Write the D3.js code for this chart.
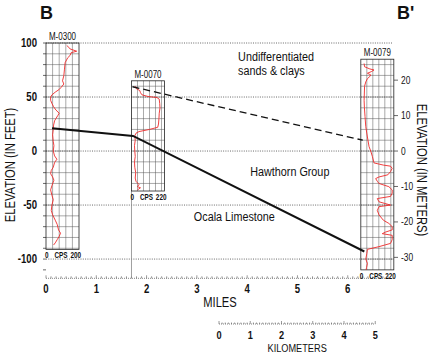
<!DOCTYPE html>
<html><head><meta charset="utf-8">
<script src="https://cdn.jsdelivr.net/npm/d3@7"></script>
<style>
html,body{margin:0;padding:0;background:#fff;}
svg text{font-family:"Liberation Sans",Arial,sans-serif;fill:#111;}
</style></head>
<body>
<svg id="c" width="430" height="356"></svg>
<script>
// ---------- DATA ----------
const elevTicksFeet = [100, 50, 0, -50, -100];
const elevTicksMeters = [20, 10, 0, -10, -20, -30];
const mileTicks = [0, 1, 2, 3, 4, 5, 6];
const kmTicks = [0, 1, 2, 3, 4, 5];

const wellNames = ["M-0300", "M-0070", "M-0079"];
const wellMiles = [0, 1.7, 6.26];
const wellTopFt = [100, 65, 85];
const wellBottomFt = [-91, -37, -110];
const wellCpsMax = [200, 220, 220];

const m0300Elev = [97.6,97,94.5,92.4,91,88.5,86.4,81.8,75.8,69.7,65,62,59,57,54.5,52,50,47,44,41,38,35,33,30,28,24,20,15,9,5,0,-4.5,-7.6,-10.6,-15,-18,-21,-24,-27,-32,-36,-41,-45,-50,-55,-59,-64,-68,-73,-76,-79,-82,-85,-87];
const m0300Cps  = [126,132,146,186,152,146,132,116,112,108,100,108,92,80,56,36,28,28,36,46,60,80,72,60,52,46,44,40,44,48,44,52,66,52,44,32,28,40,48,36,28,36,44,36,32,40,56,68,76,88,80,68,56,46];

const m0070Elev = [60,58,56,54,52,50.5,49.5,48,44,40,35,30,25,22,20,18,16.5,14,10,5,0,-5,-10,-15,-20,-25,-28,-31,-33,-34,-36];
const m0070Cps  = [25,30,55,60,70,110,170,185,188,190,185,183,180,175,120,50,30,22,25,20,22,25,20,22,28,25,30,50,40,60,40];

const m0079Elev = [81,78,76,75,73.5,72,70.5,69,67,64,60,47,40,32,22.5,13,4,0,-5,-11,-13,-14,-16,-19,-22,-24,-25.5,-28,-30,-33,-36,-39,-42,-44,-47,-50,-51.5,-55,-59,-64,-67,-70,-73,-75,-76.5,-78,-82,-85.5,-88.5,-91,-95,-100,-104,-108,-110];
const m0079Cps  = [22,25,60,88,70,44,66,60,44,33,25,22,24,28,33,44,55,66,77,88,150,198,209,198,180,121,99,110,121,187,209,209,198,110,121,198,121,110,121,150,187,209,209,165,143,209,209,198,121,44,40,33,44,38,35];

// contact lines (miles, feet)
const hawthornTopMiles = [0.12, 1.73, 6.33];
const hawthornTopFt = [21, 14, -93];
const undiffBaseMiles = [1.72, 6.3];
const undiffBaseFt = [59.5, 10];

const unitLabels = ["Undifferentiated", "sands & clays", "Hawthorn Group", "Ocala Limestone"];
const unitLabelMiles = [3.82, 3.82, 4.06, 2.94];
const unitLabelFt = [83, 70, -23, -65];

// ---------- SCALES ----------
const svg = d3.select("#c");
const x = d3.scaleLinear().domain([0, 6.88]).range([46, 392]);
const y = d3.scaleLinear().domain([-117.8, 100]).range([278.3, 43]);
const ym = d3.scaleLinear().domain([-117.8/3.2808, 100/3.2808]).range([278.3, 43]);
const xk = d3.scaleLinear().domain([0, 5]).range([219, 219 + 5/1.609344*(x(1)-x(0))]);
const boxW = 33;
const SX = 0.8; // condensed look

function txt(parent, tx, ty, str, size, anchor, weight, rot, sx) {
  const t = parent.append("text")
    .attr("transform", `translate(${tx},${ty})` + (rot ? ` rotate(${rot})` : "") + ` scale(${sx || SX},1)`)
    .attr("font-size", size).attr("text-anchor", anchor || "start").text(str);
  if (weight) t.attr("font-weight", weight);
  return t;
}

// gridlines
svg.append("g").selectAll("line").data(elevTicksFeet).join("line")
  .attr("x1", x(0)).attr("x2", x(6.88)+1)
  .attr("y1", d=>y(d)).attr("y2", d=>y(d))
  .attr("stroke", "#444").attr("stroke-width", 0.8).attr("stroke-dasharray", "1,1.3");

// left ticks (10 ft)
const minorFt = d3.range(-110, 101, 10);
svg.append("g").selectAll("line").data(minorFt).join("line")
  .attr("x1", x(0)-3).attr("x2", x(0))
  .attr("y1", d=>y(d)).attr("y2", d=>y(d))
  .attr("stroke", "#444").attr("stroke-width", 0.8);
const gl = svg.append("g");
elevTicksFeet.forEach(d => txt(gl, 37, y(d)+4, d, 12, "end", "bold"));

// right meter ticks
svg.append("g").selectAll("line").data(elevTicksMeters).join("line")
  .attr("x1", 394).attr("x2", 398)
  .attr("y1", d=>ym(d)).attr("y2", d=>ym(d))
  .attr("stroke", "#444").attr("stroke-width", 0.8);
const gr = svg.append("g");
elevTicksMeters.forEach(d => txt(gr, 401, ym(d)+3.5, d, 10.5, "start"));

// bottom miles axis
const axY = y(-117.8);
svg.append("line").attr("x1", x(0)).attr("x2", x(6.88)).attr("y1", axY).attr("y2", axY)
  .attr("stroke", "#666").attr("stroke-width", 0.8).attr("stroke-dasharray","1,1");
svg.append("g").selectAll("line").data(d3.range(0, 69, 1).map(d=>d/10)).join("line")
  .attr("x1", d=>x(d)).attr("x2", d=>x(d))
  .attr("y1", axY).attr("y2", (d,i)=> i%10===0 ? axY-3 : axY-2)
  .attr("stroke", "#555").attr("stroke-width", 0.6);
const gb = svg.append("g");
mileTicks.forEach(d => txt(gb, x(d), 293, d, 12, "middle", "bold"));
txt(svg, 220, 307, "MILES", 14, "middle");

// km bar
const kY = 324;
svg.append("line").attr("x1", xk(0)).attr("x2", xk(5)).attr("y1", kY).attr("y2", kY)
  .attr("stroke", "#666").attr("stroke-width", 0.8).attr("stroke-dasharray","1,1");
svg.append("g").selectAll("line").data(d3.range(0, 51, 1).map(d=>d/10)).join("line")
  .attr("x1", d=>xk(d)).attr("x2", d=>xk(d))
  .attr("y1", kY).attr("y2", (d,i)=> i%10===0 ? kY-3 : kY-1.5)
  .attr("stroke", "#555").attr("stroke-width", 0.6);
const gk = svg.append("g");
kmTicks.forEach(d => txt(gk, xk(d), 339, d, 11.5, "middle", "bold"));
txt(svg, xk(2.5), 352, "KILOMETERS", 11.5, "middle");

// axis titles
txt(svg, 15, 165, "ELEVATION (IN FEET)", 14, "middle", null, -90);
txt(svg, 417, 170, "ELEVATION (IN METERS)", 14, "middle", null, 90);

// section letters
svg.append("text").attr("x", 40).attr("y", 19).attr("font-size", 18).attr("font-weight","bold").text("B");
svg.append("text").attr("x", 397).attr("y", 19).attr("font-size", 18).attr("font-weight","bold").text("B'");

// vertical line under M-0070
svg.append("line").attr("x1", x(wellMiles[1])).attr("x2", x(wellMiles[1]))
  .attr("y1", y(wellBottomFt[1])).attr("y2", axY)
  .attr("stroke", "#888").attr("stroke-width", 0.8);

// wells
const logs = [[m0300Elev, m0300Cps], [m0070Elev, m0070Cps], [m0079Elev, m0079Cps]];
wellNames.forEach((name, i) => {
  const x0 = x(wellMiles[i]);
  const cx = d3.scaleLinear().domain([0, wellCpsMax[i]]).range([x0, x0 + boxW]);
  const g = svg.append("g");
  const top = wellTopFt[i], bot = wellBottomFt[i];
  const hg = d3.range(Math.ceil(bot/10)*10, top+0.01, 10).filter(v => v > bot && v < top);
  g.selectAll("line.h").data(hg).join("line").attr("class","h")
    .attr("x1", x0).attr("x2", x0+boxW).attr("y1", d=>y(d)).attr("y2", d=>y(d))
    .attr("stroke", "#555").attr("stroke-width", 0.5);
  const vg = d3.range(40, wellCpsMax[i], 40);
  g.selectAll("line.v").data(vg).join("line").attr("class","v")
    .attr("x1", d=>cx(d)).attr("x2", d=>cx(d)).attr("y1", y(top)).attr("y2", y(bot))
    .attr("stroke", "#555").attr("stroke-width", 0.5);
  g.append("rect").attr("x", x0).attr("y", y(top)).attr("width", boxW).attr("height", y(bot)-y(top))
    .attr("fill","none").attr("stroke","#222").attr("stroke-width", 0.8);
  const [ev, cv] = logs[i];
  const line = d3.line().x((d,k)=>cx(cv[k])).y(d=>y(d));
  g.append("path").attr("d", line(ev)).attr("fill","none")
    .attr("stroke", "#ee2a2a").attr("stroke-width", 0.9);
  txt(g, x0 + boxW/2, y(top)-3, name, 10, "middle");
  const by = y(bot) + 9;
  txt(g, x0-1, by, "0", 8.5, "start", "bold", null, 0.75);
  txt(g, x0+15, by, "CPS", 8.5, "middle", "bold", null, 0.75);
  txt(g, x0+boxW+2, by, wellCpsMax[i], 8.5, "end", "bold", null, 0.75);
});

// contact lines
const solid = d3.line().x((d,k)=>x(hawthornTopMiles[k])).y(d=>y(d));
svg.append("path").attr("d", solid(hawthornTopFt)).attr("fill","none")
  .attr("stroke","#111").attr("stroke-width", 2);
const dashed = d3.line().x((d,k)=>x(undiffBaseMiles[k])).y(d=>y(d));
svg.append("path").attr("d", dashed(undiffBaseFt)).attr("fill","none")
  .attr("stroke","#111").attr("stroke-width", 1.3).attr("stroke-dasharray","7,4");

// unit labels
const gu = svg.append("g");
unitLabels.forEach((d,i) => txt(gu, x(unitLabelMiles[i]), y(unitLabelFt[i]), d, 13.5, "start"));
</script>
</body></html>
